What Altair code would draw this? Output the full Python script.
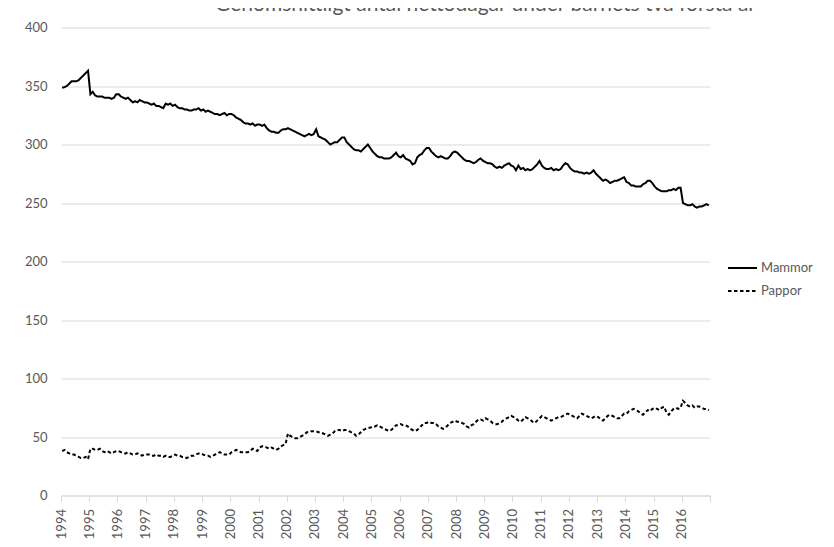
import altair as alt
import pandas as pd

years = list(range(1994, 2017))

mammor = [
    348.5, 349, 350, 352, 354, 354, 354, 355, 357, 359, 361, 363,  # 1994
    343, 345, 342, 341, 341, 341, 340, 340, 340, 339, 340, 343,    # 1995
    343, 341, 340, 339, 340, 338, 336, 337, 336, 338, 337, 336,    # 1996
    336, 335, 334, 335, 333, 333, 332, 331, 335, 334, 335, 333,    # 1997
    334, 332, 331, 331, 330, 330, 329, 329, 330, 330, 331, 329,    # 1998
    330, 328, 329, 328, 327, 326, 326, 325, 326, 327, 325, 326,    # 1999
    326, 325, 323, 322, 321, 319, 318, 318, 317, 318, 316, 317,    # 2000
    317, 316, 317, 314, 312, 311, 311, 310, 310, 312, 313, 313,    # 2001
    314, 313, 312, 311, 310, 309, 308, 307, 308, 309, 308, 309,    # 2002
    313, 307, 306, 305, 304, 302, 300, 301, 302, 302, 304, 306,    # 2003
    306, 302, 300, 298, 296, 295, 295, 294, 296, 298, 300, 297,    # 2004
    294, 292, 290, 289, 289, 288, 288, 288, 289, 291, 293, 290,    # 2005
    289, 291, 288, 287, 286, 283, 284, 289, 291, 292, 295, 297,    # 2006
    297, 294, 292, 290, 289, 290, 289, 288, 288, 290, 293, 294,    # 2007
    293, 291, 289, 287, 286, 286, 285, 284, 285, 287, 288, 286,    # 2008
    285, 284, 284, 283, 281, 280, 281, 280, 282, 283, 284, 282,    # 2009
    281, 278, 282, 279, 280, 278, 279, 278, 279, 281, 283, 286,    # 2010
    282, 280, 279, 279, 280, 278, 279, 278, 279, 282, 284, 283,    # 2011
    280, 278, 277, 277, 276, 276, 275, 276, 275, 276, 278, 275,    # 2012
    273, 271, 269, 270, 269, 267, 268, 269, 269, 270, 271, 272,    # 2013
    268, 267, 265, 265, 264, 264, 264, 266, 267, 269, 269, 267,    # 2014
    264, 262, 261, 260, 260, 260, 261, 261, 262, 261, 263, 263,    # 2015
    250, 249, 248, 248, 249, 247, 246, 247, 247, 248, 249, 248,    # 2016
]

pappor = [
    38, 39, 37, 36, 35, 35, 34, 33, 32, 32, 33, 31,  # 1994
    40, 40, 39, 39, 40, 38, 37, 38, 37, 36, 37, 38,  # 1995
    38, 37, 36, 36, 37, 36, 35, 35, 36, 35, 34, 35,  # 1996
    35, 35, 34, 34, 35, 34, 34, 33, 34, 33, 33, 34,  # 1997
    35, 34, 34, 33, 33, 32, 33, 34, 34, 35, 36, 36,  # 1998
    35, 34, 34, 33, 34, 35, 36, 37, 36, 35, 35, 35,  # 1999
    37, 38, 39, 38, 37, 37, 37, 37, 38, 40, 39, 38,  # 2000
    41, 42, 42, 41, 40, 41, 40, 39, 40, 42, 43, 44,  # 2001
    53, 51, 50, 49, 49, 50, 51, 52, 54, 54, 55, 55,  # 2002
    55, 54, 54, 53, 52, 51, 52, 53, 55, 56, 56, 55,  # 2003
    56, 56, 55, 54, 53, 51, 52, 54, 56, 57, 58, 58,  # 2004
    59, 59, 60, 59, 58, 57, 56, 55, 56, 58, 60, 60,  # 2005
    61, 60, 60, 59, 57, 56, 55, 56, 58, 60, 62, 62,  # 2006
    63, 62, 62, 61, 59, 58, 57, 58, 60, 62, 63, 64,  # 2007
    63, 63, 62, 61, 59, 58, 60, 61, 63, 65, 65, 64,  # 2008
    66, 65, 64, 62, 61, 61, 62, 63, 65, 66, 67, 68,  # 2009
    67, 66, 64, 63, 65, 67, 66, 65, 63, 62, 64, 66,  # 2010
    68, 67, 66, 65, 64, 65, 66, 67, 67, 68, 69, 70,  # 2011
    69, 68, 67, 66, 68, 70, 69, 68, 67, 66, 67, 68,  # 2012
    67, 65, 64, 66, 68, 69, 68, 67, 66, 66, 68, 70,  # 2013
    70, 72, 73, 74, 73, 72, 70, 69, 71, 73, 72, 74,  # 2014
    75, 74, 73, 75, 76, 71, 69, 72, 74, 75, 74, 75,  # 2015
    81, 79, 77, 76, 77, 75, 76, 76, 75, 74, 74, 73,  # 2016
]

series_names = ["Mammor", "Pappor"]
title_text = "Genomsnittligt antal nettodagar under barnets två första år"

rows = []
for name, vals in zip(series_names, [mammor, pappor]):
    for i, v in enumerate(vals):
        rows.append({"t": 1994 + (i + 0.5) / 12, "serie": name, "dagar": v})
df = pd.DataFrame(rows)

FONT = "Lato"
GREY = "#595959"
GRID = "#d9d9d9"

chart = alt.Chart(df).mark_line(strokeWidth=2, color="black").encode(
    x=alt.X("t:Q", scale=alt.Scale(domain=[1994, 2017], nice=False, zero=False),
            axis=alt.Axis(values=list(range(1994, 2018)), labelExpr="datum.value == 2017 ? '' : datum.value",
                          labelAngle=-90, labelFontSize=13, labelColor=GREY, labelFont=FONT,
                          grid=False, domainColor=GRID, tickColor=GRID, tickSize=6,
                          labelPadding=7, title=None)),
    y=alt.Y("dagar:Q", scale=alt.Scale(domain=[0, 400], nice=False),
            axis=alt.Axis(values=list(range(0, 401, 50)), labelFontSize=13, labelColor=GREY, labelFont=FONT,
                          grid=True, gridColor=GRID, domain=False, ticks=False, tickSize=0,
                          labelPadding=14, title=None)),
    strokeDash=alt.StrokeDash("serie:N", scale=alt.Scale(domain=series_names, range=[[1, 0], [3.5, 2.5]]),
                              legend=alt.Legend(title=None, orient="none", legendX=666, legendY=225,
                                                symbolType="stroke", symbolSize=841, symbolStrokeWidth=2,
                                                symbolStrokeColor="black", labelFontSize=13,
                                                labelColor=GREY, labelFont=FONT, labelOffset=3,
                                                rowPadding=0, padding=0)),
    detail="serie:N",
).properties(
    width=649,
    height=468,
    title=alt.TitleParams(title_text, fontSize=21, font=FONT, fontWeight="normal", color=GREY,
                          anchor="middle", frame="group", offset=5, dx=100, dy=15, baseline="alphabetic"),
    autosize=alt.AutoSizeParams(type="none"),
    padding={"left": 53, "top": 19.5, "right": 116, "bottom": 43},
).configure_view(stroke=None)

chart.save("out.html", embed_options={"renderer": "svg", "actions": False})
